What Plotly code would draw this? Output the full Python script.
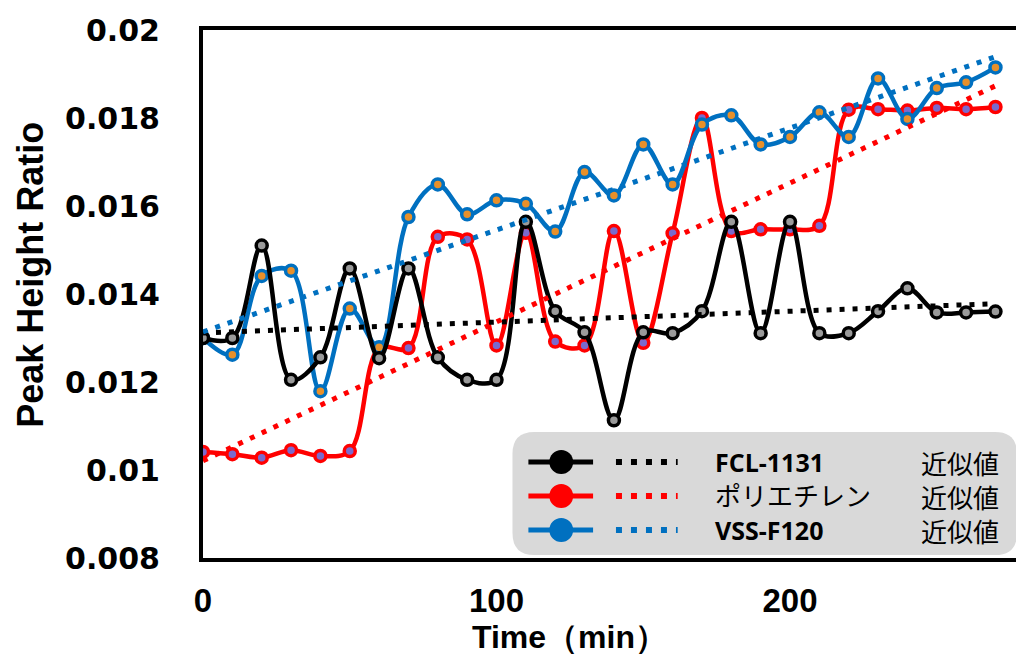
import numpy as np
import plotly.graph_objects as go

# ---------------- data ----------------
times = [0, 10, 20, 30, 40, 50, 60, 70, 80, 90, 100, 110, 120, 130,
         140, 150, 160, 170, 180, 190, 200, 210, 220, 230, 240, 250, 260, 270]

fcl_1131 = [0.0130, 0.0130, 0.0151, 0.01205, 0.01256, 0.01458, 0.01254, 0.01458,
            0.01256, 0.01205, 0.01205, 0.01564, 0.01361, 0.01313, 0.01113, 0.01313,
            0.01311, 0.01361, 0.01564, 0.01311, 0.01564, 0.01311, 0.01311, 0.01361,
            0.01413, 0.01358, 0.01358, 0.0136]

polyethylene = [0.01041, 0.01036, 0.01028, 0.01045, 0.01032, 0.01043, 0.01277, 0.01277,
                0.0153, 0.01524, 0.01283, 0.01539, 0.01292, 0.01283, 0.01543, 0.01289,
                0.01538, 0.0180, 0.01543, 0.01547, 0.01547, 0.01555, 0.01819, 0.0182,
                0.01817, 0.01823, 0.0182, 0.01825]

vss_f120 = [0.0130, 0.01262, 0.01441, 0.01453, 0.01179, 0.01367, 0.01279, 0.01575,
            0.01649, 0.01581, 0.01613, 0.01605, 0.01542, 0.01677, 0.01624, 0.0174,
            0.01649, 0.01785, 0.01806, 0.0174, 0.01757, 0.01813, 0.01757, 0.0189,
            0.01798, 0.01868, 0.01881, 0.01915]

series_names = ["FCL-1131", "ポリエチレン", "VSS-F120"]
trend_label = "近似値"
y_tick_vals = [0.008, 0.010, 0.012, 0.014, 0.016, 0.018, 0.020]
y_tick_text = ["0.008", "0.01", "0.012", "0.014", "0.016", "0.018", "0.02"]
x_tick_vals = [0, 100, 200]
x_tick_text = ["0", "100", "200"]

# ---------------- styles ----------------
BLACK = "#000000"
RED = "#ff0000"
BLUE = "#0070c0"
centers = {BLACK: "#9a9a9a", RED: "#7a6acd", BLUE: "#e8902a"}

# the page body has an 8 px default margin: size the figure to fill the rest
OFF = 8
W, H = 1024 - OFF, 657 - OFF
L, R, T, B = 203 - OFF, 4, 30 - OFF, 99
PW, PH = W - L - R, H - T - B

fig = go.Figure()

x = np.array(times, dtype=float)
series = [(polyethylene, RED), (vss_f120, BLUE), (fcl_1131, BLACK)]

for vals, col in series:
    fig.add_trace(go.Scatter(
        x=times, y=vals, mode="lines+markers",
        line=dict(color=col, width=4.5, shape="spline", smoothing=1.0),
        marker=dict(symbol="circle", size=11, color=centers[col],
                    line=dict(color=col, width=3.5)),
        showlegend=False, hoverinfo="skip"))

for vals, col in [(fcl_1131, BLACK), (polyethylene, RED), (vss_f120, BLUE)]:
    k, c = np.polyfit(x, np.array(vals), 1)
    fig.add_trace(go.Scatter(
        x=[x[0], x[-1]], y=[c + k * x[0], c + k * x[-1]], mode="lines",
        line=dict(color=col, width=5, dash="5px,8px"),
        showlegend=False, hoverinfo="skip"))

fig.update_xaxes(range=[0, 277], tickvals=x_tick_vals, ticktext=x_tick_text,
                 showgrid=False, zeroline=False, showline=True, mirror=True,
                 linecolor="black", linewidth=4,
                 ticks="outside", ticklen=10, tickcolor="rgba(0,0,0,0)",
                 tickfont=dict(family="Liberation Sans", size=33,
                               color="black", weight="bold"))
fig.update_yaxes(range=[0.008, 0.020], tickvals=y_tick_vals, ticktext=y_tick_text,
                 showgrid=False, zeroline=False, showline=True, mirror=True,
                 linecolor="black", linewidth=4,
                 ticks="outside", ticklen=33, tickcolor="rgba(0,0,0,0)",
                 tickfont=dict(family="DejaVu Sans", size=30, color="black",
                               weight="bold"))

# ---------------- helpers (screen pixel -> paper) ----------------
def px(xs):
    return (xs - OFF - L) / PW

def py(ys):
    return (H - B - (ys - OFF)) / PH

shapes = []
annotations = []

# axis titles
annotations.append(dict(text="Time（min）", xref="paper", yref="paper",
                        x=px(571), y=py(657), showarrow=False, xanchor="center",
                        yanchor="bottom",
                        font=dict(family="Liberation Sans", size=32, color="black",
                                  weight="bold")))
annotations.append(dict(text="Peak Height Ratio", xref="paper", yref="paper",
                        x=px(29), y=py(275), showarrow=False, textangle=-90,
                        xanchor="center", yanchor="middle",
                        font=dict(family="Liberation Sans", size=36, color="black",
                                  weight="bold")))

# legend box (rounded)
x0, x1, y0, y1, r = 514, 1021, 432, 555, 22
path = (f"M {px(x0 + r)},{py(y0)} L {px(x1 - r)},{py(y0)} "
        f"Q {px(x1)},{py(y0)} {px(x1)},{py(y0 + r)} "
        f"L {px(x1)},{py(y1 - r)} Q {px(x1)},{py(y1)} {px(x1 - r)},{py(y1)} "
        f"L {px(x0 + r)},{py(y1)} Q {px(x0)},{py(y1)} {px(x0)},{py(y1 - r)} "
        f"L {px(x0)},{py(y0 + r)} Q {px(x0)},{py(y0)} {px(x0 + r)},{py(y0)} Z")
shapes.append(dict(type="path", path=path, xref="paper", yref="paper",
                   fillcolor="#d9d9d9", line=dict(width=0), layer="above"))

rows = [462, 496, 530]
legend_cols = [BLACK, RED, BLUE]
for col, yr in zip(legend_cols, rows):
    shapes.append(dict(type="line", xref="paper", yref="paper",
                       x0=px(530), x1=px(595), y0=py(yr), y1=py(yr),
                       line=dict(color=col, width=5), layer="above"))
    shapes.append(dict(type="circle", xref="paper", yref="paper",
                       x0=px(551), x1=px(575), y0=py(yr - 12), y1=py(yr + 12),
                       fillcolor=col, line=dict(color=col, width=0), layer="above"))
    shapes.append(dict(type="line", xref="paper", yref="paper",
                       x0=px(618), x1=px(680), y0=py(yr), y1=py(yr),
                       line=dict(color=col, width=6, dash="6px,9px"), layer="above"))

# legend texts: one multi-line annotation per column (rows 34 px apart)
name_lines = []
for name in series_names:
    if name.isascii():
        name_lines.append(f"<b><span style='font-family:Open Sans;font-size:25px'>{name}</span></b>")
    else:
        name_lines.append(name)
annotations.append(dict(text="<br>".join(name_lines), xref="paper", yref="paper",
                        x=px(716), y=py(rows[1]), showarrow=False, xanchor="left",
                        yanchor="middle", align="left",
                        font=dict(family="Noto Sans CJK JP", size=26, color="black")))
annotations.append(dict(text="<br>".join([trend_label] * len(series_names)),
                        xref="paper", yref="paper", x=px(1005), y=py(rows[1]),
                        showarrow=False, xanchor="right", yanchor="middle", align="right",
                        font=dict(family="Noto Sans CJK JP", size=26, color="black")))

fig.update_layout(width=W, height=H, margin=dict(l=L, r=R, t=T, b=B),
                  paper_bgcolor="white", plot_bgcolor="white",
                  shapes=shapes, annotations=annotations, showlegend=False)

fig.write_html("out.html")
